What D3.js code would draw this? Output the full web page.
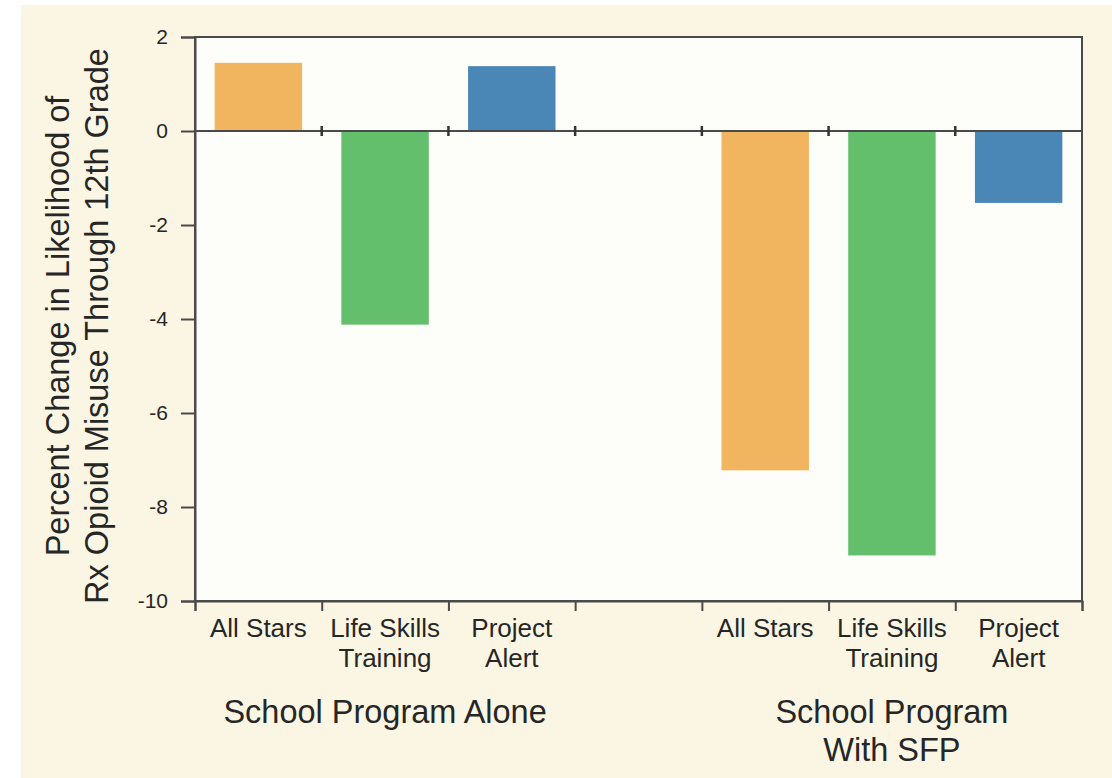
<!DOCTYPE html>
<html>
<head>
<meta charset="utf-8">
<script src="https://cdn.jsdelivr.net/npm/d3@7"></script>
<style>
    body { margin: 0; background: #ffffff; }
    text { font-family: "Liberation Sans", Arial, Helvetica, sans-serif; fill: #262626; }
</style>
</head>
<body>
<svg id="chart" width="1112" height="778"></svg>
<script>
// data
let programs = ['All Stars', 'Life Skills Training', 'Project Alert'];
let programLines = [['All Stars'], ['Life Skills', 'Training'], ['Project', 'Alert']];
let groups = ['School Program Alone', 'School Program With SFP'];
let groupLines = [['School Program Alone'], ['School Program', 'With SFP']];
let aloneValues = [1.45, -4.12, 1.38];
let sfpValues = [-7.22, -9.03, -1.53];
let yTicks = [2, 0, -2, -4, -6, -8, -10];
let colours = ['#f1b45f', '#63bf6b', '#4b87b6'];

let svg = d3.select('#chart');
let plotLeft = 195, plotRight = 1082, plotTop = 37, plotBottom = 601;

// cream background
svg.append('rect')
    .attr('x', 21).attr('y', 5)
    .attr('width', 1112 - 21).attr('height', 778 - 5)
    .attr('fill', '#faf6e3');

//slots: 3 bars, an empty gap, 3 bars
let slots = [];
for (i = 0; i < programs.length; i++) slots.push('alone-' + i);
slots.push('gap');
for (i = 0; i < programs.length; i++) slots.push('sfp-' + i);

const xScale = d3.scaleBand()
    .domain(slots)
    .range([plotLeft, plotRight])
    .padding(0);

// numeric version of the same slots for the boundary ticks
const slotScale = d3.scaleLinear()
    .domain([0, slots.length])
    .range([plotLeft, plotRight]);

const yScale = d3.scaleLinear()
    .domain([-10, 2])
    .range([plotBottom, plotTop]);

// plot area
svg.append('rect')
    .attr('x', plotLeft).attr('y', plotTop)
    .attr('width', plotRight - plotLeft).attr('height', plotBottom - plotTop)
    .attr('fill', '#fdfdf9')
    .attr('stroke', '#4a4a4a')
    .attr('stroke-width', 2);

// bars
let bars = [];
for (i = 0; i < programs.length; i++) {
    bars.push({slot: 'alone-' + i, value: aloneValues[i], colour: colours[i]});
    bars.push({slot: 'sfp-' + i, value: sfpValues[i], colour: colours[i]});
}
let barWidth = xScale.bandwidth() * 0.69;

svg.append('g').selectAll('rect')
    .data(bars)
    .enter()
    .append('rect')
    .attr('x', d => xScale(d.slot) + (xScale.bandwidth() - barWidth) / 2)
    .attr('y', d => yScale(Math.max(0, d.value)))
    .attr('width', barWidth)
    .attr('height', d => Math.abs(yScale(d.value) - yScale(0)))
    .attr('fill', d => d.colour);

// zero line with crossing ticks
svg.append('line')
    .attr('x1', plotLeft).attr('x2', plotRight)
    .attr('y1', yScale(0)).attr('y2', yScale(0))
    .attr('stroke', '#4a4a4a')
    .attr('stroke-width', 2);

svg.append('g').selectAll('line')
    .data(d3.range(1, slots.length))
    .enter()
    .append('line')
    .attr('x1', d => slotScale(d)).attr('x2', d => slotScale(d))
    .attr('y1', yScale(0) - 5).attr('y2', yScale(0) + 5)
    .attr('stroke', '#333')
    .attr('stroke-width', 2.5);

// y axis
let yAxis = svg.append('g')
    .attr('transform', `translate(${plotLeft}, 0)`)
    .call(d3.axisLeft(yScale)
        .tickValues(yTicks)
        .tickSize(14)
        .tickPadding(13)
        .tickFormat(d => String(d)));
yAxis.select('.domain').attr('stroke', '#4a4a4a').attr('stroke-width', 2);
yAxis.selectAll('.tick line').attr('stroke', '#4a4a4a').attr('stroke-width', 2);
yAxis.selectAll('.tick text')
    .style('font-size', '21px')
    .attr('fill', '#262626');

// bottom axis, ticks at slot boundaries
let xAxis = svg.append('g')
    .attr('transform', `translate(0, ${plotBottom})`)
    .call(d3.axisBottom(slotScale)
        .tickValues(d3.range(0, slots.length + 1))
        .tickSize(10)
        .tickFormat(''));
xAxis.select('.domain').attr('stroke', '#4a4a4a').attr('stroke-width', 2);
xAxis.selectAll('.tick line').attr('stroke', '#4a4a4a').attr('stroke-width', 2);

// category labels
let labelData = [];
for (i = 0; i < programs.length; i++) {
    labelData.push({slot: 'alone-' + i, lines: programLines[i]});
    labelData.push({slot: 'sfp-' + i, lines: programLines[i]});
}
let catLabels = svg.append('g').selectAll('text')
    .data(labelData)
    .enter()
    .append('text')
    .attr('x', d => xScale(d.slot) + xScale.bandwidth() / 2)
    .attr('y', 637)
    .attr('text-anchor', 'middle')
    .style('font-size', '26px');
catLabels.selectAll('tspan')
    .data(d => d.lines.map(l => ({text: l, x: xScale(d.slot) + xScale.bandwidth() / 2})))
    .enter()
    .append('tspan')
    .attr('x', d => d.x)
    .attr('dy', (d, j) => j == 0 ? 0 : 30)
    .text(d => d.text);

// group labels
let groupStart = [0, programs.length + 1];
let groupText = svg.append('g').selectAll('text')
    .data(groups)
    .enter()
    .append('text')
    .attr('x', (d, g) => (slotScale(groupStart[g]) + slotScale(groupStart[g] + programs.length)) / 2)
    .attr('y', 723)
    .attr('text-anchor', 'middle')
    .style('font-size', '32.5px');
groupText.selectAll('tspan')
    .data((d, g) => groupLines[g].map(l => ({text: l, x: (slotScale(groupStart[g]) + slotScale(groupStart[g] + programs.length)) / 2})))
    .enter()
    .append('tspan')
    .attr('x', d => d.x)
    .attr('dy', (d, j) => j == 0 ? 0 : 38)
    .text(d => d.text);

//y axis title
let titleLines = ['Percent Change in Likelihood of', 'Rx Opioid Misuse Through 12th Grade'];
svg.append('g').selectAll('text')
    .data(titleLines)
    .enter()
    .append('text')
    .attr('transform', (d, j) => `translate(${69 + j * 39}, 326) rotate(-90)`)
    .attr('text-anchor', 'middle')
    .style('font-size', '32.5px')
    .text(d => d);
</script>
</body>
</html>
